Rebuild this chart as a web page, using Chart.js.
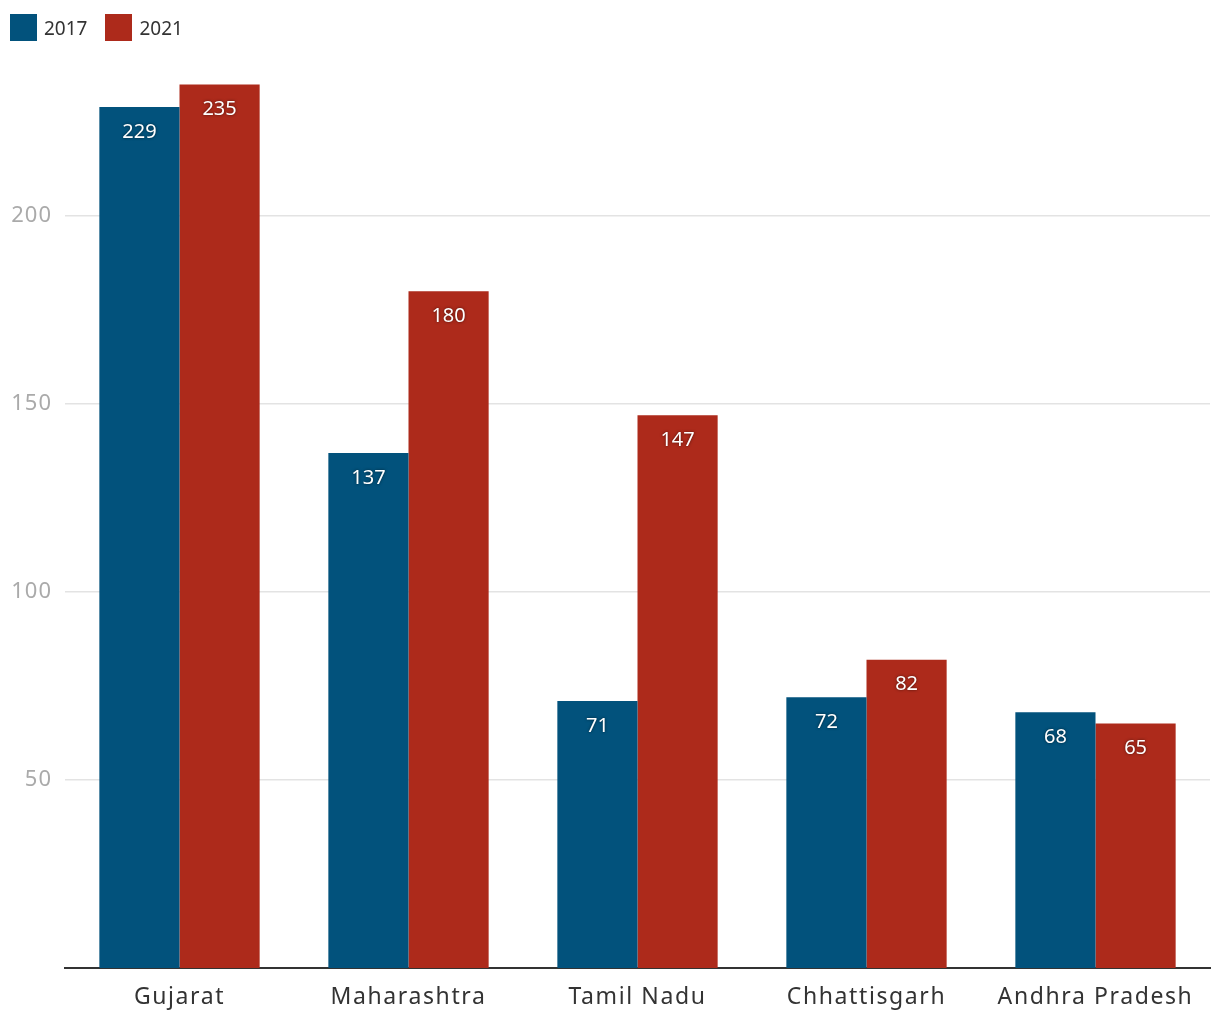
<!DOCTYPE html>
<html>
<head>
<meta charset="utf-8">
<script src="https://cdn.jsdelivr.net/npm/chart.js@4/dist/chart.umd.min.js"></script>
<style>
  html, body { margin: 0; padding: 0; background: #fff; }
  #wrap { position: relative; width: 1220px; height: 1020px; }
  #legend { position: absolute; left: 10px; top: 14px; display: flex; align-items: center; font-family: "Noto Sans", sans-serif; font-size: 19px; color: #333; }
  .item { display: flex; align-items: center; margin-right: 18px; }
  .box { width: 27px; height: 27px; margin-right: 7px; }
</style>
</head>
<body>
<div id="wrap">
  <canvas id="c" width="1220" height="1020"></canvas>
  <div id="legend"></div>
</div>
<script>
const categories = ["Gujarat", "Maharashtra", "Tamil Nadu", "Chhattisgarh", "Andhra Pradesh"];
const seriesNames = ["2017", "2021"];
const values2017 = [229, 137, 71, 72, 68];
const values2021 = [235, 180, 147, 82, 65];
const yTicks = [50, 100, 150, 200];
const colors = ["#02527C", "#AD2A1B"];

const legend = document.getElementById('legend');
seriesNames.forEach((n, i) => {
  const d = document.createElement('div'); d.className = 'item';
  const b = document.createElement('div'); b.className = 'box'; b.style.background = colors[i];
  const t = document.createElement('span'); t.textContent = n;
  d.appendChild(b); d.appendChild(t); legend.appendChild(d);
});

function spaced(scale, px) {
  if (scale._spaced) return;
  const orig = scale.drawLabels.bind(scale);
  scale.drawLabels = function (ca) {
    const ctx = scale.ctx;
    ctx.save();
    ctx.letterSpacing = px;
    orig(ca);
    ctx.restore();
  };
  scale._spaced = true;
}

const labelPlugin = {
  id: 'barLabels',
  afterDatasetsDraw(chart) {
    const ctx = chart.ctx;
    ctx.save();
    ctx.font = '20px "Noto Sans", sans-serif';
    ctx.fillStyle = '#fff';
    ctx.textAlign = 'center';
    ctx.textBaseline = 'middle';
    ctx.shadowColor = 'rgba(0,0,0,0.6)';
    ctx.shadowBlur = 3;
    chart.data.datasets.forEach((ds, di) => {
      chart.getDatasetMeta(di).data.forEach((bar, i) => {
        ctx.fillText(String(ds.data[i]), bar.x, bar.y + 25);
      });
    });
    ctx.restore();
  }
};

new Chart(document.getElementById('c'), {
  type: 'bar',
  data: {
    labels: categories,
    datasets: [
      { label: seriesNames[0], data: values2017, backgroundColor: colors[0], borderWidth: 0 },
      { label: seriesNames[1], data: values2021, backgroundColor: colors[1], borderWidth: 0 }
    ]
  },
  options: {
    responsive: false,
    animation: false,
    devicePixelRatio: 1,
    layout: { padding: { top: 28, right: 10, left: 0, bottom: 0 } },
    datasets: { bar: { categoryPercentage: 0.7, barPercentage: 1.0 } },
    plugins: { legend: { display: false }, tooltip: { enabled: false } },
    scales: {
      x: {
        grid: { display: false, drawTicks: false },
        border: { display: true, color: '#333', width: 2 },
        ticks: { color: '#333', font: { family: '"Noto Sans", sans-serif', size: 23 }, padding: 16 },
        afterFit(s) { s.height = 52; spaced(s, '1.6px'); }
      },
      y: {
        min: 0, max: 250,
        afterBuildTicks(s) { s.ticks = yTicks.map(v => ({ value: v })); },
        grid: { color: '#e3e3e3', lineWidth: 1.5, drawTicks: false },
        border: { display: false },
        ticks: { color: '#aaa', font: { family: '"Noto Sans", sans-serif', size: 22 }, padding: 13 },
        afterFit(s) { s.width = 65; spaced(s, '1px'); }
      }
    }
  },
  plugins: [labelPlugin]
});
</script>
</body>
</html>
